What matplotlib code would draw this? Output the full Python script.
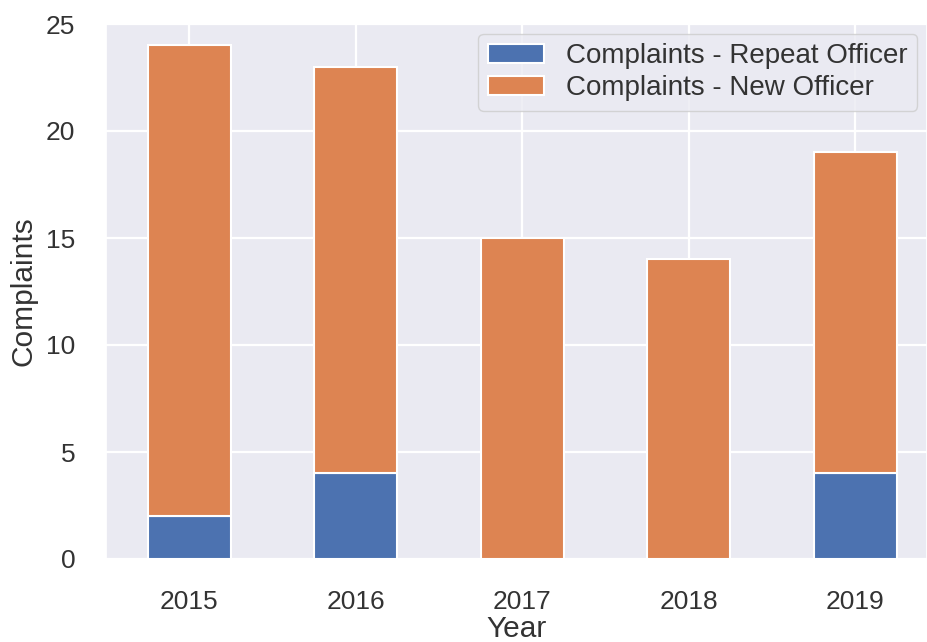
import matplotlib
matplotlib.use("Agg")
from matplotlib import pyplot as plt
import seaborn as sns
import numpy as np

years = ["2015", "2016", "2017", "2018", "2019"]
repeat_officer = [2, 4, 0, 0, 4]
new_officer = [22, 19, 15, 14, 15]

sns.set_theme(style="darkgrid")
plt.rcParams["font.family"] = ["Liberation Sans", "DejaVu Sans"]

fig = plt.figure(figsize=(9.27, 6.42), dpi=100)
# axes spans x 106..927 px, y 24..559 px
ax = fig.add_axes([106 / 927, 1 - 559 / 642, 821 / 927, 535 / 642])

x = np.arange(len(years))
ax.bar(x, repeat_officer, width=0.5, color="#4c72b0", edgecolor="white",
       linewidth=1.5, label="Complaints - Repeat Officer")
ax.bar(x, new_officer, width=0.5, bottom=repeat_officer, color="#dd8452",
       edgecolor="white", linewidth=1.5, label="Complaints - New Officer")

ax.set_xticks(x)
ax.set_xticklabels(years)
ax.tick_params(axis="both", labelsize=19, pad=16, colors="#333333")
ax.set_xlim(-0.5, 4.43)
ax.set_ylim(0, 25)
ax.set_xlabel("Year", fontsize=21.5, labelpad=1, color="#333333")
ax.set_ylabel("Complaints", fontsize=21.5, labelpad=6, color="#333333")
ax.grid(linewidth=1.6)
leg = ax.legend(loc="upper right", fontsize=20, borderaxespad=0.35,
                handlelength=2.0, labelspacing=0.2, borderpad=0.35)
for t in leg.get_texts():
    t.set_color("#333333")

fig.savefig("out.png", dpi=100)
